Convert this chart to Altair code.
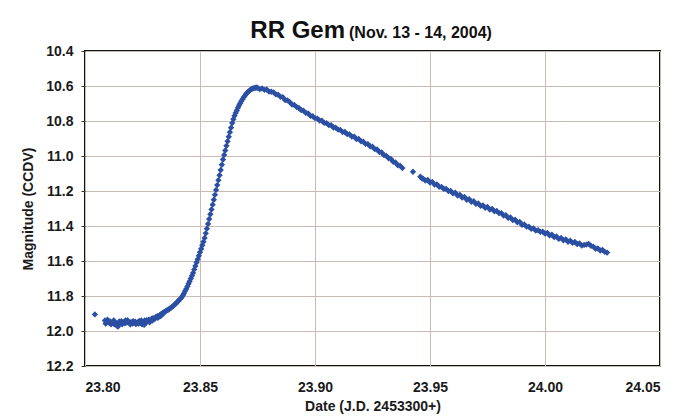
import altair as alt
import pandas as pd

# Pre-outburst (flat) part
flat_x = [23.8043, 23.8087, 23.8092, 23.8098, 23.8104, 23.8110, 23.8116, 23.8122, 23.8128,
          23.8134, 23.8140, 23.8146, 23.8152, 23.8158, 23.8164, 23.8170, 23.8176, 23.8182,
          23.8188, 23.8194, 23.8200, 23.8206, 23.8212, 23.8218, 23.8224, 23.8230, 23.8236,
          23.8242, 23.8248, 23.8254, 23.8260, 23.8266, 23.8272, 23.8278, 23.8284, 23.8290,
          23.8296, 23.8302, 23.8308, 23.8314, 23.8320, 23.8326, 23.8332, 23.8338, 23.8344,
          23.8350, 23.8355]
flat_y = [11.905, 11.940, 11.948, 11.935, 11.952, 11.945, 11.958, 11.950, 11.962,
          11.955, 11.970, 11.960, 11.950, 11.944, 11.955, 11.948, 11.940, 11.952,
          11.946, 11.955, 11.950, 11.958, 11.952, 11.946, 11.955, 11.950, 11.943,
          11.955, 11.962, 11.948, 11.940, 11.952, 11.945, 11.935, 11.942, 11.930,
          11.926, 11.932, 11.920, 11.915, 11.918, 11.908, 11.902, 11.896, 11.892,
          11.886, 11.884]
flat2_x = [23.8090, 23.8101, 23.8113, 23.8125, 23.8137, 23.8143, 23.8149, 23.8161, 23.8173,
           23.8185, 23.8197, 23.8209, 23.8221, 23.8233, 23.8245, 23.8257, 23.8269, 23.8281,
           23.8293, 23.8305, 23.8317, 23.8329, 23.8341]
flat2_y = [11.958, 11.944, 11.962, 11.940, 11.958, 11.975, 11.945, 11.962, 11.956,
           11.938, 11.962, 11.944, 11.960, 11.958, 11.940, 11.965, 11.938, 11.950,
           11.940, 11.928, 11.925, 11.915, 11.900]

# Rise to maximum
rise_x = [23.8360, 23.8365, 23.8370, 23.8375, 23.8380, 23.8385, 23.8390, 23.8395, 23.8400,
          23.8405, 23.8410, 23.8415, 23.8420, 23.8425, 23.8430, 23.8435, 23.8440, 23.8445,
          23.8450, 23.8455, 23.8460, 23.8465, 23.8470, 23.8475, 23.8480, 23.8485, 23.8490,
          23.8495, 23.8500, 23.8505, 23.8510, 23.8515, 23.8520, 23.8525, 23.8530, 23.8535,
          23.8540, 23.8545, 23.8550, 23.8555, 23.8560, 23.8565, 23.8570, 23.8575, 23.8580,
          23.8585, 23.8590, 23.8595, 23.8600, 23.8605, 23.8610, 23.8615, 23.8620, 23.8625,
          23.8630, 23.8635, 23.8640, 23.8645, 23.8650, 23.8655, 23.8660, 23.8665, 23.8670,
          23.8675, 23.8680, 23.8685, 23.8690, 23.8695, 23.8700, 23.8705, 23.8710, 23.8715,
          23.8720, 23.8725, 23.8730, 23.8735, 23.8740, 23.8745]
rise_y = [11.880, 11.876, 11.870, 11.866, 11.860, 11.856, 11.848, 11.843, 11.836,
          11.830, 11.822, 11.816, 11.808, 11.797, 11.786, 11.772, 11.760, 11.746,
          11.730, 11.716, 11.700, 11.684, 11.668, 11.648, 11.628, 11.608, 11.590,
          11.570, 11.550, 11.530, 11.510, 11.490, 11.468, 11.442, 11.415, 11.388,
          11.360, 11.333, 11.305, 11.278, 11.250, 11.222, 11.194, 11.166, 11.138,
          11.110, 11.080, 11.050, 11.020, 10.994, 10.968, 10.942, 10.916, 10.890,
          10.864, 10.838, 10.812, 10.790, 10.770, 10.754, 10.740, 10.724, 10.710,
          10.698, 10.686, 10.675, 10.664, 10.655, 10.646, 10.638, 10.632, 10.626,
          10.621, 10.618, 10.614, 10.612, 10.610, 10.609]

# Decline after maximum
fall_x = [23.875, 23.876, 23.877, 23.878, 23.879, 23.880, 23.881, 23.882, 23.883, 23.884,
          23.885, 23.886, 23.887, 23.888, 23.889, 23.890, 23.891, 23.892, 23.893, 23.894,
          23.895, 23.896, 23.897, 23.898, 23.899, 23.900, 23.901, 23.902, 23.903, 23.904,
          23.905, 23.906, 23.907, 23.908, 23.909, 23.910, 23.911, 23.912, 23.913, 23.914,
          23.915, 23.916, 23.917, 23.918, 23.919, 23.920, 23.921, 23.922, 23.923, 23.924,
          23.925, 23.926, 23.927, 23.928, 23.929, 23.930, 23.931, 23.932, 23.933, 23.934,
          23.935, 23.936, 23.937, 23.938, 23.9426, 23.9458, 23.9465, 23.947, 23.948, 23.949,
          23.950, 23.951, 23.952, 23.953, 23.954, 23.955, 23.956, 23.957, 23.958, 23.959,
          23.960, 23.961, 23.962, 23.963, 23.964, 23.965, 23.966, 23.967, 23.968, 23.969,
          23.970, 23.971, 23.972, 23.973, 23.974, 23.975, 23.976, 23.977, 23.978, 23.979,
          23.980, 23.981, 23.982, 23.983, 23.984, 23.985, 23.986, 23.987, 23.988, 23.989,
          23.990, 23.991, 23.992, 23.993, 23.994, 23.995, 23.996, 23.997, 23.998, 23.999,
          24.000, 24.001, 24.002, 24.003, 24.004, 24.005, 24.006, 24.007, 24.008, 24.009,
          24.010, 24.011, 24.012, 24.013, 24.014, 24.015, 24.016, 24.017, 24.018, 24.019,
          24.020, 24.021, 24.022, 24.023, 24.024, 24.025, 24.026, 24.027]
fall_y = [10.610, 10.618, 10.614, 10.622, 10.620, 10.632, 10.633, 10.636, 10.648, 10.650,
          10.662, 10.664, 10.680, 10.682, 10.692, 10.706, 10.708, 10.720, 10.725, 10.738,
          10.741, 10.754, 10.757, 10.770, 10.773, 10.784, 10.786, 10.797, 10.798, 10.811,
          10.812, 10.824, 10.824, 10.837, 10.838, 10.849, 10.851, 10.863, 10.863, 10.875,
          10.876, 10.889, 10.889, 10.903, 10.903, 10.916, 10.918, 10.931, 10.932, 10.945,
          10.947, 10.961, 10.963, 10.977, 10.980, 10.995, 10.999, 11.013, 11.017, 11.033,
          11.037, 11.053, 11.055, 11.069, 11.090, 11.118, 11.128, 11.130, 11.140, 11.137,
          11.152, 11.148, 11.164, 11.162, 11.176, 11.176, 11.188, 11.188, 11.200, 11.200,
          11.214, 11.210, 11.226, 11.222, 11.238, 11.234, 11.250, 11.246, 11.262, 11.258,
          11.274, 11.271, 11.285, 11.282, 11.296, 11.291, 11.306, 11.302, 11.316, 11.314,
          11.326, 11.326, 11.340, 11.338, 11.354, 11.351, 11.366, 11.364, 11.379, 11.376,
          11.394, 11.391, 11.404, 11.404, 11.416, 11.414, 11.426, 11.424, 11.434, 11.432,
          11.444, 11.439, 11.454, 11.449, 11.464, 11.460, 11.474, 11.468, 11.482, 11.476,
          11.490, 11.484, 11.496, 11.491, 11.504, 11.499, 11.512, 11.508, 11.506, 11.502,
          11.514, 11.518, 11.530, 11.528, 11.540, 11.537, 11.548, 11.552]

x_ticks = [23.80, 23.85, 23.90, 23.95, 24.00, 24.05]
y_ticks = [10.4, 10.6, 10.8, 11.0, 11.2, 11.4, 11.6, 11.8, 12.0, 12.2]

df = pd.DataFrame({
    "jd": flat_x + flat2_x + rise_x + fall_x,
    "mag": flat_y + flat2_y + rise_y + fall_y,
})

FONT = "Liberation Sans"
W, H = 575, 315

points = alt.Chart(df).mark_point(
    shape="diamond", filled=True, size=40, color="#2a4fa3", opacity=1
).encode(
    x=alt.X("jd:Q", scale=alt.Scale(domain=[23.80, 24.05], nice=False, zero=False),
            axis=alt.Axis(values=x_ticks, format=".2f", title="Date (J.D. 2453300+)",
                          tickSize=0, labelPadding=14, titlePadding=5)),
    y=alt.Y("mag:Q", scale=alt.Scale(domain=[10.4, 12.2], nice=False, zero=False, reverse=True),
            axis=alt.Axis(values=y_ticks, format=".1f", title="Magnitude (CCDV)",
                          tickSize=4, labelPadding=8, titlePadding=10)),
)

title_main = alt.Chart(df).mark_text(
    text="RR Gem", font=FONT, fontSize=24, fontWeight="bold", align="right",
    baseline="alphabetic", color="#111111"
).encode(x=alt.value(260), y=alt.value(-13))

title_sub = alt.Chart(df).mark_text(
    text="(Nov. 13 - 14, 2004)", font=FONT, fontSize=16, fontWeight="bold", align="left",
    baseline="alphabetic", color="#111111"
).encode(x=alt.value(264), y=alt.value(-13))

chart = alt.layer(points, title_main.transform_filter("datum.jd == 23.8043"),
                  title_sub.transform_filter("datum.jd == 23.8043")).properties(
    width=W, height=H,
    autosize=alt.AutoSizeParams(type="none"),
    padding={"left": 77, "top": 43, "right": 10, "bottom": 50},
).configure_view(
    stroke="#111111", strokeWidth=2
).configure_axis(
    grid=True, gridColor="#c9bcb4", gridWidth=1, domain=False,
    labelFont=FONT, labelFontSize=14, labelFontWeight="bold", labelColor="#1a1a1a",
    titleFont=FONT, titleFontSize=14, titleFontWeight="bold", titleColor="#1a1a1a",
    tickColor="#333333"
)

chart.save("out.html", embed_options={"renderer": "svg", "actions": False})
